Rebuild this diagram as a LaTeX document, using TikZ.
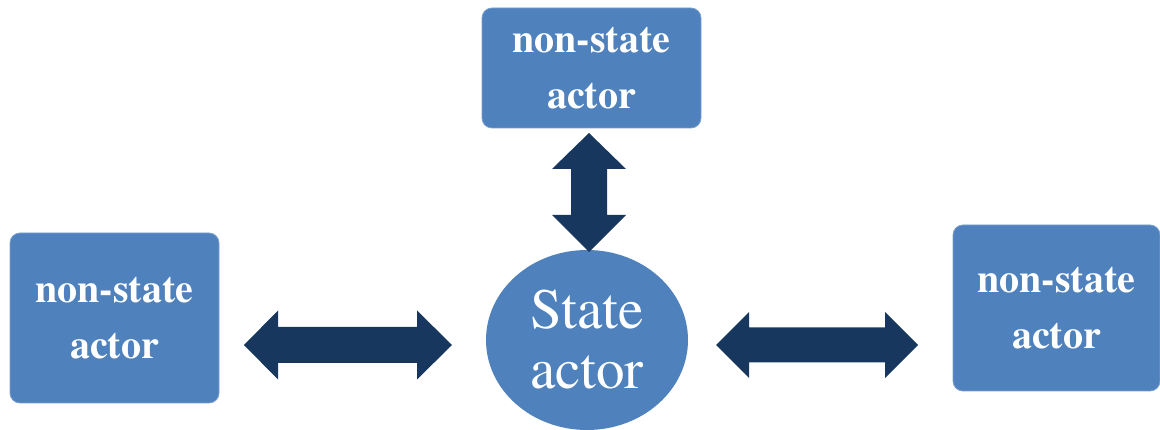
\documentclass[tikz,border=0pt]{standalone}
\usepackage{fontspec}
\setmainfont{texgyretermes}[Extension=.otf, UprightFont=*-regular, BoldFont=*-bold, ItalicFont=*-italic, BoldItalicFont=*-bolditalic]
\usetikzlibrary{shapes.geometric}
\definecolor{boxblue}{HTML}{4F81BD}
\definecolor{boxedge}{HTML}{7A9FCF}
\definecolor{arrowdark}{HTML}{17375E}
\tikzset{
  actorbox/.style={draw=boxedge, line width=0.8pt, fill=boxblue, rounded corners=10pt,
    text=white, align=center, inner sep=0pt,
    font=\bfseries\fontsize{40}{56}\selectfont},
  stateell/.style={ellipse, fill=boxblue, draw=none, text=white, align=center, inner sep=0pt,
    minimum width=202pt, minimum height=180pt, font=\fontsize{57}{60}\selectfont},
  dblarrow/.style={fill=arrowdark, draw=none}
}
\begin{document}
\begin{tikzpicture}[x=1pt,y=-1pt]
\useasboundingbox (0,0) rectangle (1160,430);
\node[actorbox, minimum width=219pt, minimum height=120pt] (T) at (591.5,68) {non-state\\actor};
\node[actorbox, minimum width=209pt, minimum height=170pt] (L) at (114.5,318) {non-state\\actor};
\node[actorbox, minimum width=207pt, minimum height=166pt] (R) at (1056.5,308) {non-state\\actor};
\node[stateell] (C) at (587,340) {State\\actor};
% connectors (block double arrows)
\coordinate (vt) at (589,133);
\coordinate (lt) at (244,345);
\coordinate (rt) at (716,345);
\fill[dblarrow] (vt) -- ++(37,36) -- ++(-19,0) -- ++(0,46) -- ++(19,0) -- ++(-37,37)
  -- ++(-37,-37) -- ++(19,0) -- ++(0,-46) -- ++(-19,0) -- cycle;
\fill[dblarrow] (lt) -- ++(34,-34.5) -- ++(0,16.5) -- ++(139,0) -- ++(0,-16.5) -- ++(35,34.5)
  -- ++(-35,34.5) -- ++(0,-16.5) -- ++(-139,0) -- ++(0,16.5) -- cycle;
\fill[dblarrow] (rt) -- ++(33,-33) -- ++(0,15.5) -- ++(136,0) -- ++(0,-15.5) -- ++(33,33)
  -- ++(-33,33) -- ++(0,-15.5) -- ++(-136,0) -- ++(0,15.5) -- cycle;
\end{tikzpicture}
\end{document}
